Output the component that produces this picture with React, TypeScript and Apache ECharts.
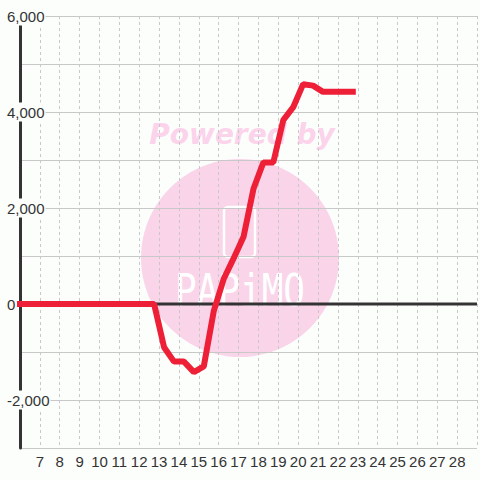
import React, { useEffect, useRef } from "react";
import * as echarts from "echarts";

const xTicks = [7, 8, 9, 10, 11, 12, 13, 14, 15, 16, 17, 18, 19, 20, 21, 22, 23, 24, 25, 26, 27, 28];
const yTickLabels = [6000, 4000, 2000, 0, -2000];

const hours = [
  5.75, 6.25, 6.75, 7.25, 7.75, 8.25, 8.75, 9.25, 9.75, 10.25, 10.75, 11.25, 11.75, 12.25, 12.75,
  13.25, 13.75, 14.25, 14.75, 15.25, 15.75, 16.25, 16.75, 17.25, 17.75, 18.25, 18.75, 19.25,
  19.75, 20.25, 20.75, 21.25, 21.75, 22.25, 22.75,
];
const values = [
  0, 0, 0, 0, 0, 0, 0, 0, 0, 0, 0, 0, 0, 0, 0,
  -900, -1200, -1200, -1420, -1300, -150, 520, 950, 1400, 2400, 2950, 2950, 3830,
  4100, 4580, 4550, 4420, 4420, 4420, 4420,
];
const baselineX = [6, 29];
const baselineY = [0, 0];

const BG = "#fcfefc";
const FONT = "'Liberation Sans', Arial, sans-serif";

export default function App() {
  const ref = useRef<HTMLDivElement>(null);
  useEffect(() => {
    if (!ref.current) return;
    const chart = echarts.init(ref.current, undefined, { renderer: "svg" });
    chart.setOption({
      animation: false,
      backgroundColor: BG,
      grid: { left: 20, right: 0, top: 16, bottom: 32, containLabel: false },
      xAxis: {
        type: "value",
        min: 6,
        max: 29,
        interval: 1,
        axisLine: { show: false },
        axisTick: { show: false },
        axisLabel: {
          color: "#333",
          fontSize: 15,
          fontFamily: FONT,
          margin: 6,
          formatter: (v: number) => (xTicks.includes(v) ? String(v) : ""),
        },
        splitLine: { show: true, lineStyle: { color: "#c8c8c8", width: 1, type: [3, 3] } },
      },
      yAxis: {
        type: "value",
        min: -3000,
        max: 6000,
        interval: 1000,
        axisLine: { show: true, onZero: false, lineStyle: { color: "#333", width: 3 } },
        axisTick: { show: false },
        axisLabel: {
          color: "#333",
          fontSize: 15,
          fontFamily: FONT,
          align: "left",
          margin: 14,
          backgroundColor: BG,
          padding: [2, 1],
          formatter: (v: number) => (yTickLabels.includes(v) ? v.toLocaleString("en-US") : ""),
        },
        splitLine: { show: true, lineStyle: { color: "#c8c8c8", width: 1 } },
      },
      graphic: [
        {
          type: "circle",
          z: -10,
          shape: { cx: 240, cy: 258, r: 99 },
          style: { fill: "#fad5ea" },
          silent: true,
        },
        {
          type: "text",
          z: -10,
          x: 242,
          y: 134,
          style: {
            text: "Powered by",
            fill: "#fbd4eb",
            font: "italic bold 28px 'DejaVu Sans', Verdana, sans-serif",
            align: "center",
            verticalAlign: "middle",
          },
          silent: true,
        },
        {
          type: "rect",
          z: -9,
          shape: { x: 224, y: 207, width: 31, height: 50, r: 4 },
          style: { fill: "none", stroke: "#ffffff", lineWidth: 2.5 },
          silent: true,
        },
        {
          type: "text",
          z: -9,
          x: 240,
          y: 291,
          scaleY: 1.25,
          style: {
            text: "PAPiMO",
            fill: "#ffffff",
            font: "normal 36px 'DejaVu Sans Mono', monospace",
            align: "center",
            verticalAlign: "middle",
          },
          silent: true,
        },
      ],
      series: [
        {
          name: "baseline",
          type: "line",
          z: 1,
          symbol: "none",
          silent: true,
          data: baselineX.map((x, i) => [x, baselineY[i]]),
          lineStyle: { color: "#333", width: 3 },
        },
        {
          name: "value",
          type: "line",
          z: 2,
          symbol: "none",
          data: hours.map((h, i) => [h, values[i]]),
          lineStyle: { color: "#ee2038", width: 6, cap: "square" },
        },
      ],
    });
    return () => chart.dispose();
  }, []);
  return (
    <div
      ref={ref}
      style={{ position: "absolute", left: 0, top: 0, width: 480, height: 480 }}
    />
  );
}
